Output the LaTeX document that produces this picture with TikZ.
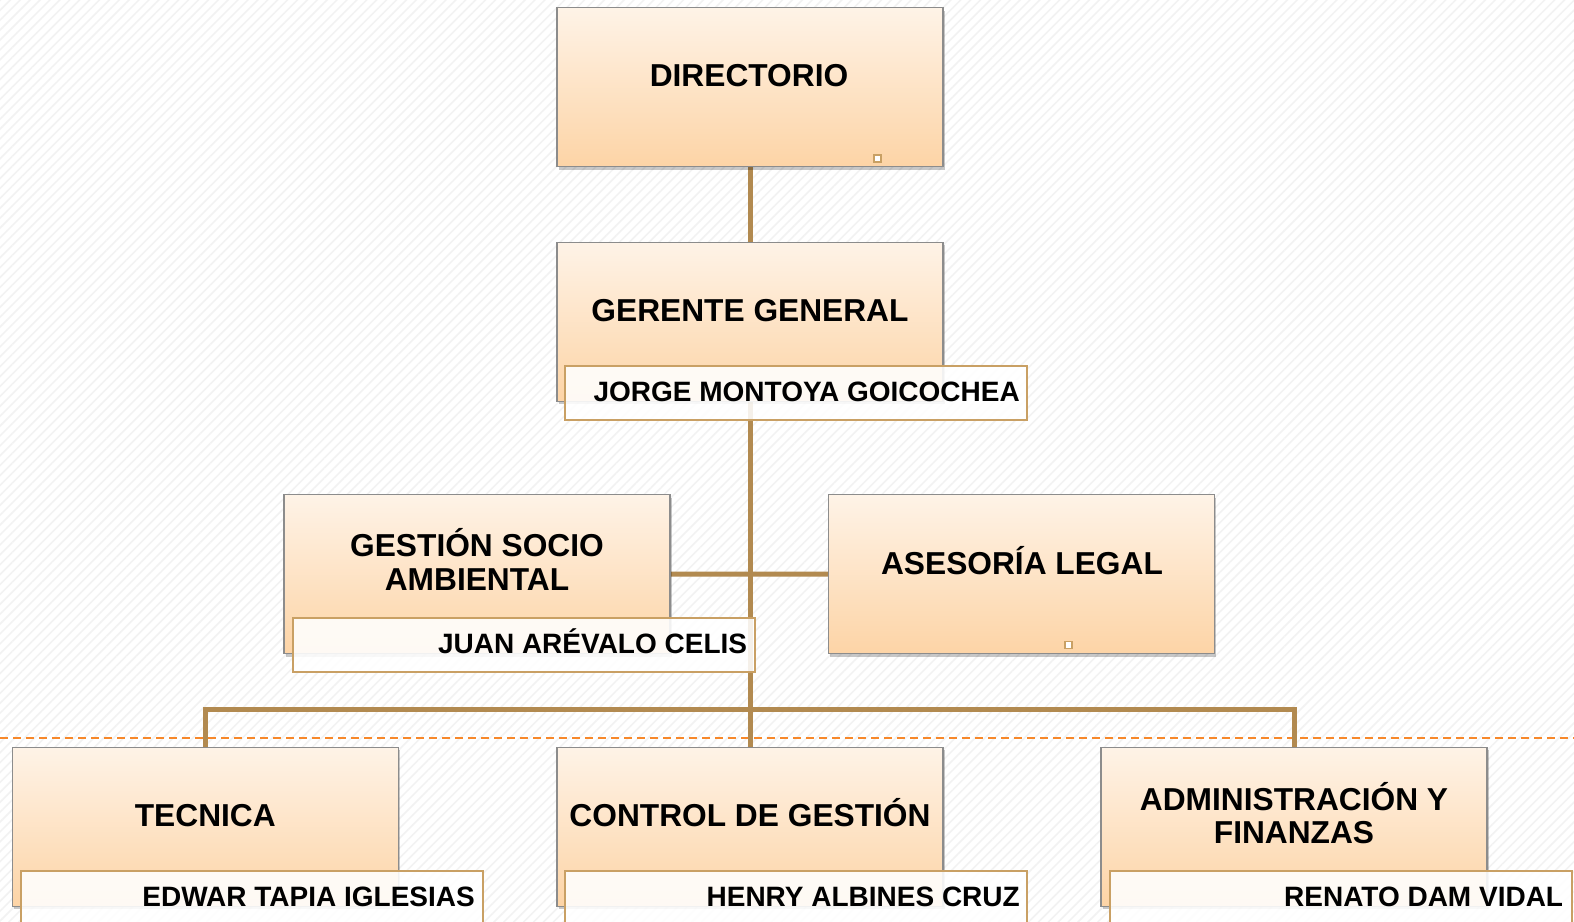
\documentclass[tikz,border=0pt]{standalone}
\usepackage{fontspec}
\setmainfont{Liberation Sans}
\usetikzlibrary{shadows,patterns.meta}
\definecolor{conn}{HTML}{B28A50}
\definecolor{nameb}{HTML}{C9A064}
\definecolor{dashc}{HTML}{F7882A}
\definecolor{boxtop}{HTML}{FEF3E7}
\definecolor{boxbot}{HTML}{FDD4A6}
\definecolor{boxline}{HTML}{8C8C8C}
\pgfdeclarelayer{back}
\pgfdeclarelayer{mid}
\pgfsetlayers{back,mid,main}
\tikzset{
  unitbox/.style={draw=boxline, line width=1.2pt, top color=boxtop, bottom color=boxbot,
    minimum width=386pt, minimum height=159pt, inner sep=0pt,
    drop shadow={shadow xshift=1.5pt, shadow yshift=-3pt, opacity=0.22, fill=black}},
  namebox/.style={draw=nameb, line width=2pt, fill=white, fill opacity=0.88, text opacity=1,
    minimum width=462pt, minimum height=54pt, inner sep=0pt},
  marker/.style={draw=nameb, line width=1.5pt, fill=white, minimum size=7pt, inner sep=0pt},
  title/.style={font=\fontsize{31.7}{34}\selectfont\bfseries, inner sep=0pt, anchor=base},
  person/.style={font=\fontsize{28}{30}\selectfont\bfseries, inner sep=0pt, anchor=base east},
  link/.style={draw=conn, line width=5pt, line join=miter},
  divider/.style={draw=dashc, line width=2pt, dash pattern=on 8pt off 5pt}
}
\begin{document}
\begin{tikzpicture}[x=1pt,y=-1pt]
\clip (0,0) rectangle (1574,921);
\begin{pgfonlayer}{back}
  \fill[white] (0,0) rectangle (1574,921);
  \fill[pattern={Lines[angle=45,distance=7pt,line width=1.5pt]}, pattern color=black!5] (0,0) rectangle (1574,921);
\end{pgfonlayer}

% boxes
\node[unitbox] (dir)  at (750,87)     {};
\node[unitbox] (gg)   at (750,321.7)  {};
\node[unitbox] (gsa)  at (477,574)    {};
\node[unitbox] (ase)  at (1021.8,574.2) {};
\node[unitbox] (tec)  at (205.5,826.7) {};
\node[unitbox] (ctrl) at (750,826.7)  {};
\node[unitbox] (adm)  at (1294,826.7) {};

% small markers
\node[marker] (mkA) at (877.7,158.3) {};
\node[marker] (mkB) at (1068.3,645) {};

% name boxes
\node[namebox] (ggn)   at (796,393)     {};
\node[namebox] (gsan)  at (523.8,645)   {};
\node[namebox, minimum height=60pt] (tecn)  at (251.8,900.7) {};
\node[namebox, minimum height=60pt] (ctrln) at (796,900.7)   {};
\node[namebox, minimum height=60pt] (admn)  at (1340.5,900.7) {};

% titles
\node[title] (dirT)  at (749,86)     {DIRECTORIO};
\node[title] (ggT)   at (750,321.7)  {GERENTE GENERAL};
\node[title] (gsaT1) at (477,556)    {GESTIÓN SOCIO};
\node[title] (gsaT2) at (477,590.5)  {AMBIENTAL};
\node[title] (aseT)  at (1022,574)   {ASESORÍA LEGAL};
\node[title] (tecT)  at (205.3,826.7) {TECNICA};
\node[title] (ctrlT) at (750,826.7)  {CONTROL DE GESTIÓN};
\node[title] (admT1) at (1294,810)   {ADMINISTRACIÓN Y};
\node[title] (admT2) at (1294,843.3) {FINANZAS};

% names
\node[person] (ggP)   at (1020,401.7)  {JORGE MONTOYA GOICOCHEA};
\node[person] (gsaP)  at (747.3,653.3) {JUAN ARÉVALO CELIS};
\node[person] (tecP)  at (475,906.7)   {EDWAR TAPIA IGLESIAS};
\node[person] (ctrlP) at (1020,906.7)  {HENRY ALBINES CRUZ};
\node[person] (admP)  at (1563.3,906.7) {RENATO DAM VIDAL};

% connectors
\coordinate (bus) at (750,709);
\coordinate (dl) at (0,737.7);
\coordinate (dr) at (1574,737.7);
\begin{pgfonlayer}{mid}
  \path[divider] (dl) -- (dr);
  \path[link] (dir.south) -- (gg.north);
  \path[link] (gg.south) -- (ctrl.north);
  \path[link] (gsa.east) -- (ase.west);
  \path[link] (tec.north) |- (bus) -| (adm.north);
\end{pgfonlayer}
\end{tikzpicture}
\end{document}
